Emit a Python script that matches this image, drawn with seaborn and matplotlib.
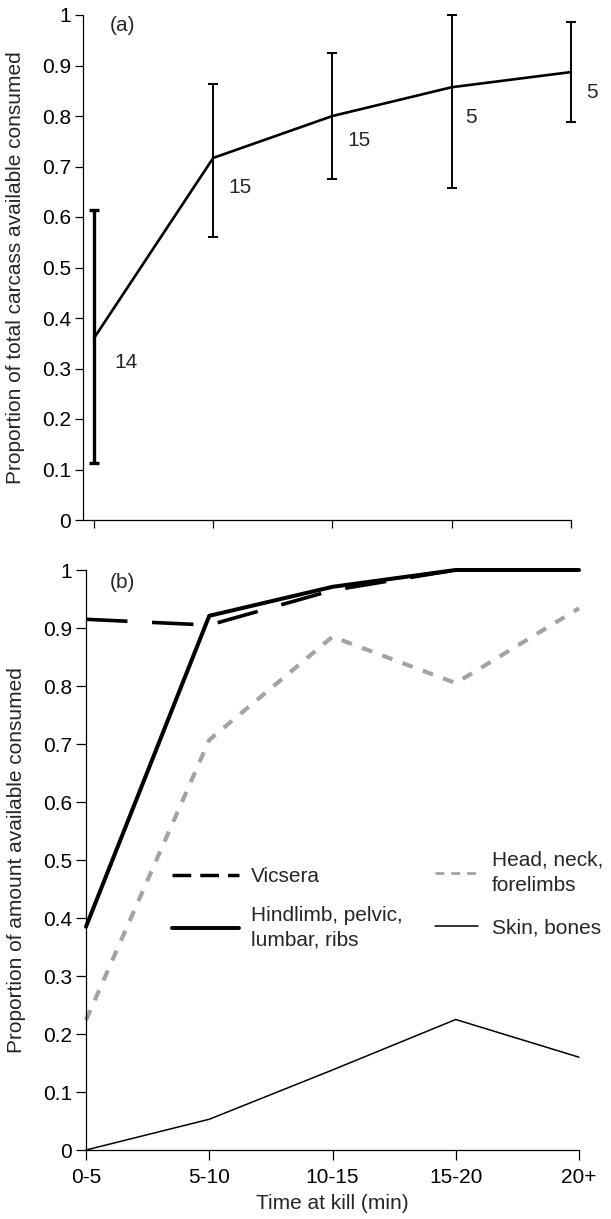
import numpy as np
import pandas as pd
import matplotlib
matplotlib.use("Agg")
import matplotlib.pyplot as plt
from matplotlib.lines import Line2D
import seaborn as sns

# ---------------- data ----------------
periods = ["0-5", "5-10", "10-15", "15-20", "20+"]
total_mean = [0.36, 0.717, 0.80, 0.857, 0.887]
total_low = [0.113, 0.56, 0.675, 0.657, 0.788]
total_high = [0.614, 0.863, 0.925, 1.0, 0.986]
sample_n = ["14", "15", "15", "5", "5"]

vicsera = [0.915, 0.905, 0.965, 1.0, 1.0]
hindlimb = [0.385, 0.921, 0.971, 1.0, 1.0]
head_neck = [0.224, 0.707, 0.885, 0.805, 0.934]
skin_bones = [0.0, 0.053, 0.138, 0.225, 0.16]

y_ticks = [0, 0.1, 0.2, 0.3, 0.4, 0.5, 0.6, 0.7, 0.8, 0.9, 1.0]

# ---------------- style ----------------
sns.set_style("ticks")
plt.rcParams["font.family"] = ["Liberation Sans", "DejaVu Sans"]
FS = 15
GREY = "#a3a3a3"

W, H = 611, 1219
fig = plt.figure(figsize=(W / 100, H / 100), dpi=100)
axA = fig.add_axes([83 / W, 1 - 520 / H, (571 - 83) / W, (520 - 15) / H])
axB = fig.add_axes([86 / W, 1 - 1150 / H, (579 - 86) / W, (1150 - 570) / H])

xpos = np.arange(len(periods))

# ---------------- panel (a) ----------------
dfa = pd.DataFrame({"x": xpos, "y": total_mean})
sns.lineplot(data=dfa, x="x", y="y", ax=axA, color="black", linewidth=1.9,
             errorbar=None, clip_on=False)
mean = np.array(total_mean)
low = np.array(total_low)
high = np.array(total_high)
elw = [2.4, 1.4, 1.4, 1.4, 1.4]
for i in range(len(xpos)):
    axA.errorbar([xpos[i]], [mean[i]],
                 yerr=[[mean[i] - low[i]], [high[i] - mean[i]]],
                 fmt="none", ecolor="black", elinewidth=elw[i],
                 capsize=3.3, capthick=elw[i], clip_on=False)
dxs = [15, 11, 11, 10, 11]
dys = [-17.3, -21, -17.3, -21.6, -14.4]
for i, n in enumerate(sample_n):
    axA.annotate(n, (xpos[i], mean[i]), xytext=(dxs[i], dys[i]),
                 textcoords="offset points", ha="left", va="center",
                 fontsize=FS)

axA.set_xlim(-0.092, 4.0)
axA.set_ylim(0, 1)
axA.set_xticks(xpos)
axA.tick_params(axis="x", labelbottom=False)
axA.set_yticks(y_ticks)
axA.set_yticklabels([f"{v:g}" for v in y_ticks])
axA.set_xlabel("")
axA.set_ylabel("Proportion of total carcass available consumed", fontsize=FS)
axA.yaxis.set_label_coords(-0.118, 0.5)
axA.text(0.055, 0.98, "(a)", transform=axA.transAxes, fontsize=FS,
         ha="left", va="center")

# ---------------- panel (b) ----------------
dfb = pd.DataFrame({"x": xpos, "vic": vicsera, "hind": hindlimb,
                    "head": head_neck, "skin": skin_bones})
sns.lineplot(data=dfb, x="x", y="head", ax=axB, color=GREY, linewidth=3.0,
             linestyle=(0, (2.6, 2.6)), errorbar=None, clip_on=False)
sns.lineplot(data=dfb, x="x", y="skin", ax=axB, color="black", linewidth=1.1,
             errorbar=None, clip_on=False)
sns.lineplot(data=dfb, x="x", y="vic", ax=axB, color="black", linewidth=2.6,
             linestyle=(0, (11.5, 6.8)), errorbar=None, clip_on=False)
sns.lineplot(data=dfb, x="x", y="hind", ax=axB, color="black", linewidth=2.9,
             errorbar=None, clip_on=False)

axB.set_xlim(0, 4.0)
axB.set_ylim(0, 1)
axB.set_xticks(xpos)
axB.set_xticklabels(periods)
axB.set_yticks(y_ticks)
axB.set_yticklabels([f"{v:g}" for v in y_ticks])
axB.set_xlabel("Time at kill (min)", fontsize=FS, labelpad=5)
axB.set_ylabel("Proportion of amount available consumed", fontsize=FS)
axB.yaxis.set_label_coords(-0.122, 0.5)
axB.text(0.049, 0.978, "(b)", transform=axB.transAxes, fontsize=FS,
         ha="left", va="center")

h_vic = Line2D([], [], color="black", linewidth=2.5, linestyle=(0, (5.4, 2.6)))
h_hind = Line2D([], [], color="black", linewidth=2.8)
h_head = Line2D([], [], color=GREY, linewidth=2.0, linestyle=(0, (3.2, 2.5)))
h_skin = Line2D([], [], color="black", linewidth=1.1)

leg1 = axB.legend([h_vic, h_hind], ["Vicsera", "Hindlimb, pelvic,\nlumbar, ribs"],
                  loc="upper left", bbox_to_anchor=((172 - 86) / 493, 0.488),
                  frameon=False, fontsize=FS, handlelength=3.2,
                  handletextpad=0.58, borderpad=0, borderaxespad=0,
                  labelspacing=0.95)
for t in leg1.get_texts():
    t.set_linespacing(1.4)
axB.add_artist(leg1)
leg2 = axB.legend([h_head, h_skin], ["Head, neck,\nforelimbs", "Skin, bones"],
                  loc="upper left", bbox_to_anchor=((435 - 86) / 493, 0.516),
                  frameon=False, fontsize=FS, handlelength=2.07,
                  handletextpad=0.65, borderpad=0, borderaxespad=0,
                  labelspacing=1.15)
for t in leg2.get_texts():
    t.set_linespacing(1.4)

for ax in (axA, axB):
    sns.despine(ax=ax)
    for s in ("left", "bottom"):
        ax.spines[s].set_linewidth(0.9)
        ax.spines[s].set_color("black")
    ax.tick_params(direction="out", length=5.5, width=0.9, labelsize=FS,
                   pad=3, colors="black")
axB.tick_params(axis="both", length=7)
axB.tick_params(axis="x", pad=6)

fig.savefig("out.png", dpi=100)
